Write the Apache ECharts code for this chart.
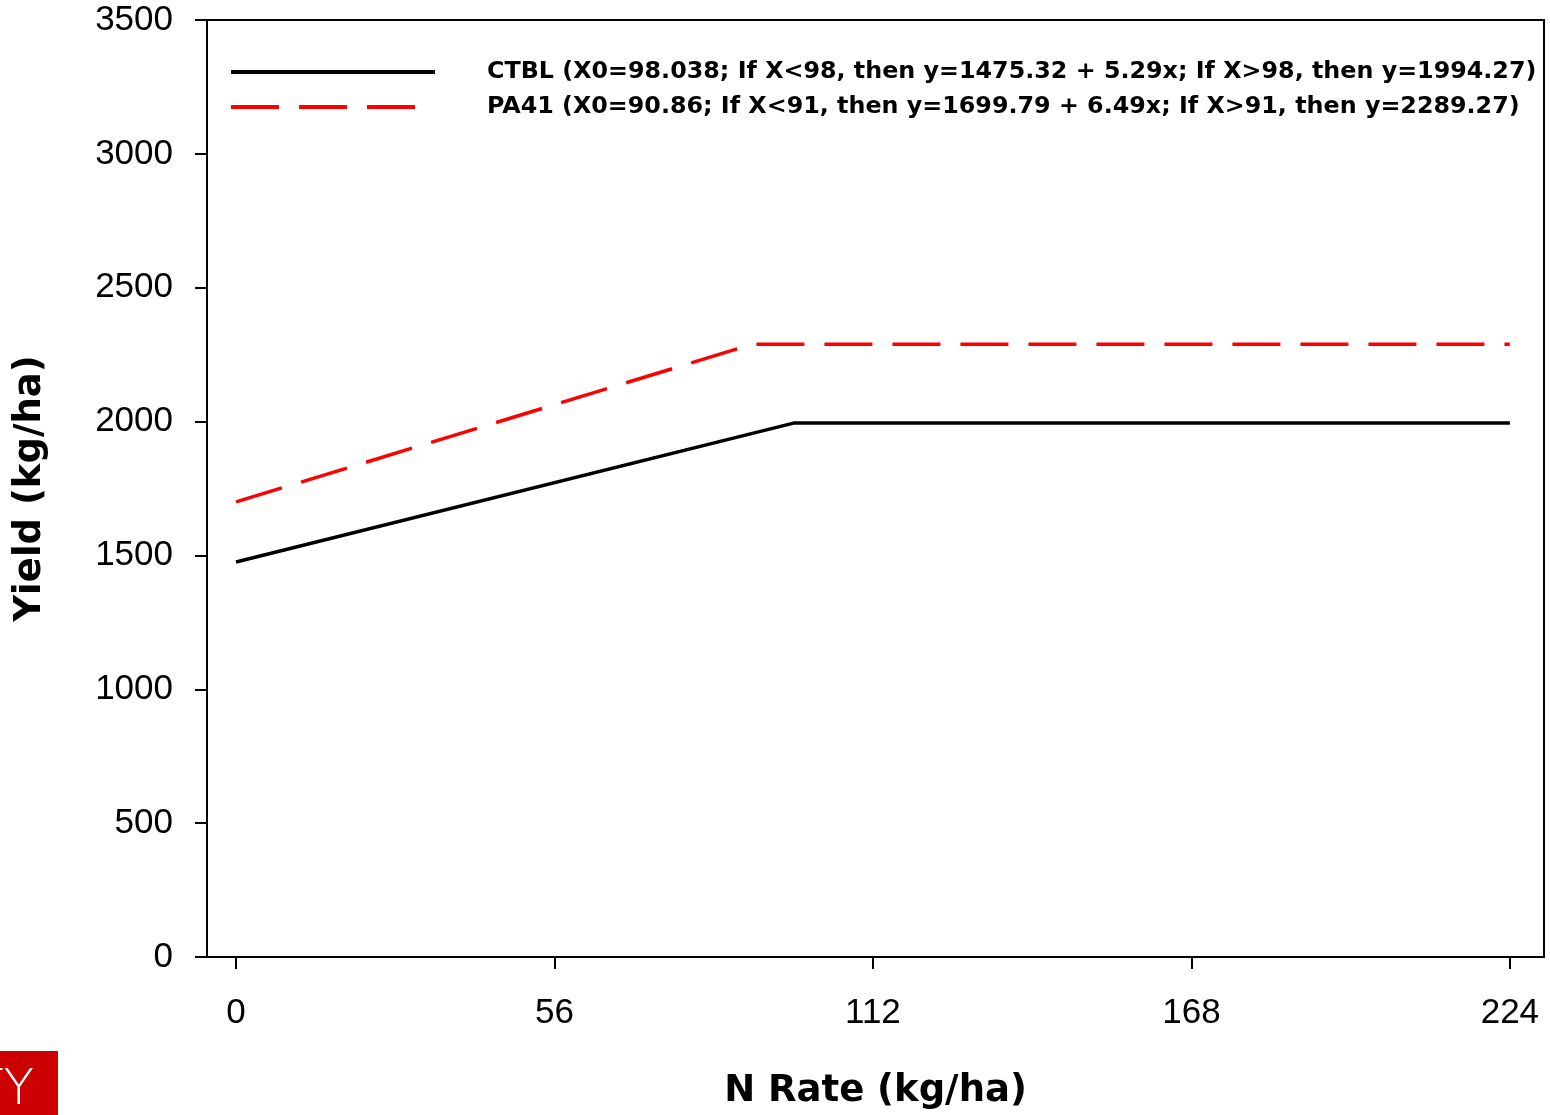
<!DOCTYPE html>
<html>
<head>
<meta charset="utf-8">
<script src="https://cdn.jsdelivr.net/npm/echarts@6/dist/echarts.min.js"></script>
<style>
  html, body { margin: 0; padding: 0; background: #fff; }
  #chart { width: 1550px; height: 1115px; }
</style>
</head>
<body>
<div id="chart"></div>
<script>
// N rate (kg/ha) breakpoints and fitted yields for each line
const ctblX = [0, 98.038, 224];
const ctblY = [1475.32, 1994.27, 1994.27];
const pa41X = [0, 90.86, 224];
const pa41Y = [1699.79, 2289.27, 2289.27];

const seriesNames = ['CTBL', 'PA41'];
const legendLabels = [
  'CTBL (X0=98.038; If X<98, then y=1475.32 + 5.29x; If X>98, then y=1994.27)',
  'PA41 (X0=90.86; If X<91, then y=1699.79 + 6.49x; If X>91, then y=2289.27)'
];
const xTicks = [0, 56, 112, 168, 224];

const toPairs = (xs, ys) => xs.map((x, i) => [x, ys[i]]);

const boldFont = 'DejaVu Sans, sans-serif';
const tickFont = 'Liberation Sans, Arial, sans-serif';

const chart = echarts.init(document.getElementById('chart'));

chart.setOption({
  animation: false,
  grid: {
    left: 207,
    right: 6,
    top: 20,
    bottom: 158,
    show: true,
    borderColor: '#000',
    borderWidth: 2,
    backgroundColor: 'transparent'
  },
  legend: {
    orient: 'vertical',
    left: 229,
    top: 60,
    padding: 0,
    itemWidth: 204,
    itemHeight: 20,
    itemGap: 11,
    data: seriesNames,
    formatter: (name) => legendLabels[seriesNames.indexOf(name)],
    itemStyle: { opacity: 0 },
    lineStyle: { width: 4 },
    textStyle: {
      fontFamily: boldFont,
      fontWeight: 'bold',
      fontSize: 23.8,
      color: '#000',
      padding: [0, 0, 0, 47],
      lineHeight: 20
    }
  },
  xAxis: {
    type: 'value',
    min: -5.1,
    max: 230,
    name: 'N Rate (kg/ha)',
    nameLocation: 'middle',
    nameGap: 116,
    nameTextStyle: {
      fontFamily: boldFont,
      fontWeight: 'bold',
      fontSize: 37,
      color: '#000'
    },
    axisLine: { show: true, onZero: false, lineStyle: { color: '#000', width: 2 } },
    axisTick: {
      show: true,
      customValues: xTicks,
      length: 12,
      lineStyle: { color: '#000', width: 2 }
    },
    axisLabel: {
      customValues: xTicks,
      margin: 39,
      fontFamily: tickFont,
      fontSize: 35,
      color: '#000',
      formatter: (v) => String(v)
    },
    splitLine: { show: false }
  },
  yAxis: {
    type: 'value',
    min: 0,
    max: 3500,
    interval: 500,
    name: 'Yield (kg/ha)',
    nameLocation: 'middle',
    nameGap: 158,
    nameTextStyle: {
      fontFamily: boldFont,
      fontWeight: 'bold',
      fontSize: 37,
      color: '#000'
    },
    axisLine: { show: true, onZero: false, lineStyle: { color: '#000', width: 2 } },
    axisTick: { show: true, length: 12, lineStyle: { color: '#000', width: 2 } },
    axisLabel: {
      margin: 34,
      fontFamily: tickFont,
      fontSize: 35,
      color: '#000',
      formatter: (v) => String(v)
    },
    splitLine: { show: false }
  },
  series: [
    {
      name: seriesNames[0],
      type: 'line',
      data: toPairs(ctblX, ctblY),
      symbol: 'none',
      lineStyle: { color: '#000', width: 3.5, type: 'solid' },
      itemStyle: { color: '#000' }
    },
    {
      name: seriesNames[1],
      type: 'line',
      data: toPairs(pa41X, pa41Y),
      symbol: 'none',
      lineStyle: { color: '#ff0000', width: 3.5, type: [48, 20] },
      itemStyle: { color: '#ff0000' }
    }
  ],
  graphic: [
    {
      type: 'rect',
      left: 0,
      top: 1051,
      shape: { width: 58, height: 64 },
      style: { fill: '#cc0000' },
      silent: true
    },
    {
      type: 'text',
      x: 34,
      y: 1066,
      style: {
        text: 'TY',
        fill: '#fff',
        fontFamily: 'DejaVu Sans',
        fontWeight: 'lighter',
        fontSize: 50,
        align: 'right',
        verticalAlign: 'top'
      },
      silent: true
    }
  ]
});
</script>
</body>
</html>
